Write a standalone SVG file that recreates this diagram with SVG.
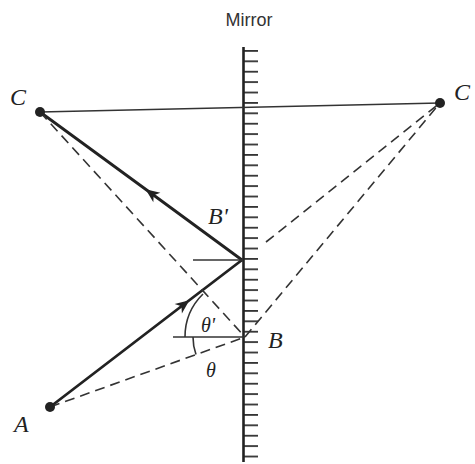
<svg xmlns="http://www.w3.org/2000/svg" width="475" height="464" viewBox="0 0 475 464">
<defs>
<style>
.thick{stroke:#222;stroke-width:2.8;fill:none;stroke-linecap:round}
.thin{stroke:#333;stroke-width:1.6;fill:none}
.dash{stroke:#333;stroke-width:1.6;fill:none;stroke-dasharray:10 6}
.lbl{font-family:"Liberation Serif","DejaVu Serif",serif;font-style:italic;fill:#222}
.dot{fill:#222}
</style>
<marker id="arr" markerWidth="16" markerHeight="14" viewBox="-13 -7 16 14" refX="0" refY="0" orient="auto" markerUnits="userSpaceOnUse">
<path d="M3,0 L-11,-6 L-7,0 L-11,6 Z" fill="#222"/>
</marker>
<pattern id="hatch" x="0" y="50" width="20" height="10.4" patternUnits="userSpaceOnUse">
<line x1="0" y1="0.9" x2="20" y2="0.9" stroke="#333" stroke-width="1.8"/>
</pattern>
</defs>
<rect width="475" height="464" fill="#fff"/>
<text x="249" y="26" font-family="Liberation Sans, Arial, sans-serif" font-size="18" text-anchor="middle" fill="#333">Mirror</text>
<g id="mirror">
<rect x="243" y="49" width="15" height="413" fill="url(#hatch)"/>
<line x1="243.5" y1="47" x2="243.5" y2="462" stroke="#222" stroke-width="2.6"/>
</g>
<g id="connectors">
<line class="thin" x1="40" y1="112" x2="440" y2="103"/>
<path class="thick" d="M50,407 L187,302 L242,260" marker-mid="url(#arr)"/>
<path class="thick" d="M242,260 L148,191 L40,112" marker-mid="url(#arr)"/>
<line class="dash" x1="40" y1="112" x2="245" y2="337"/>
<line class="dash" x1="50" y1="407" x2="245" y2="337"/>
<line class="dash" x1="245" y1="337" x2="440" y2="103"/>
<line class="dash" x1="266" y1="242" x2="440" y2="103"/>
<line class="thin" x1="193" y1="260" x2="243" y2="260"/>
<line class="thin" x1="173" y1="337" x2="245" y2="337"/>
<path class="thin" d="M185,337 A60,60 0 0 1 203,294"/>
<path class="thin" d="M193,337 A52,52 0 0 0 196,354.6"/>
</g>
<g id="C">
<circle class="dot" cx="40" cy="112" r="5"/>
<text class="lbl" x="10" y="105" font-size="24">C</text>
</g>
<g id="Cprime">
<circle class="dot" cx="440" cy="103" r="5"/>
<text class="lbl" x="454" y="100" font-size="24">C</text>
</g>
<g id="A">
<circle class="dot" cx="50" cy="407" r="5"/>
<text class="lbl" x="14" y="432" font-size="24">A</text>
</g>
<g id="Bprime">
<text class="lbl" x="208" y="224" font-size="24">B'</text>
</g>
<g id="B">
<text class="lbl" x="268" y="348" font-size="24">B</text>
</g>
<g id="thetaprime">
<text class="lbl" x="201" y="332" font-size="20">θ'</text>
</g>
<g id="theta">
<text class="lbl" x="206" y="377" font-size="20">θ</text>
</g>
</svg>
